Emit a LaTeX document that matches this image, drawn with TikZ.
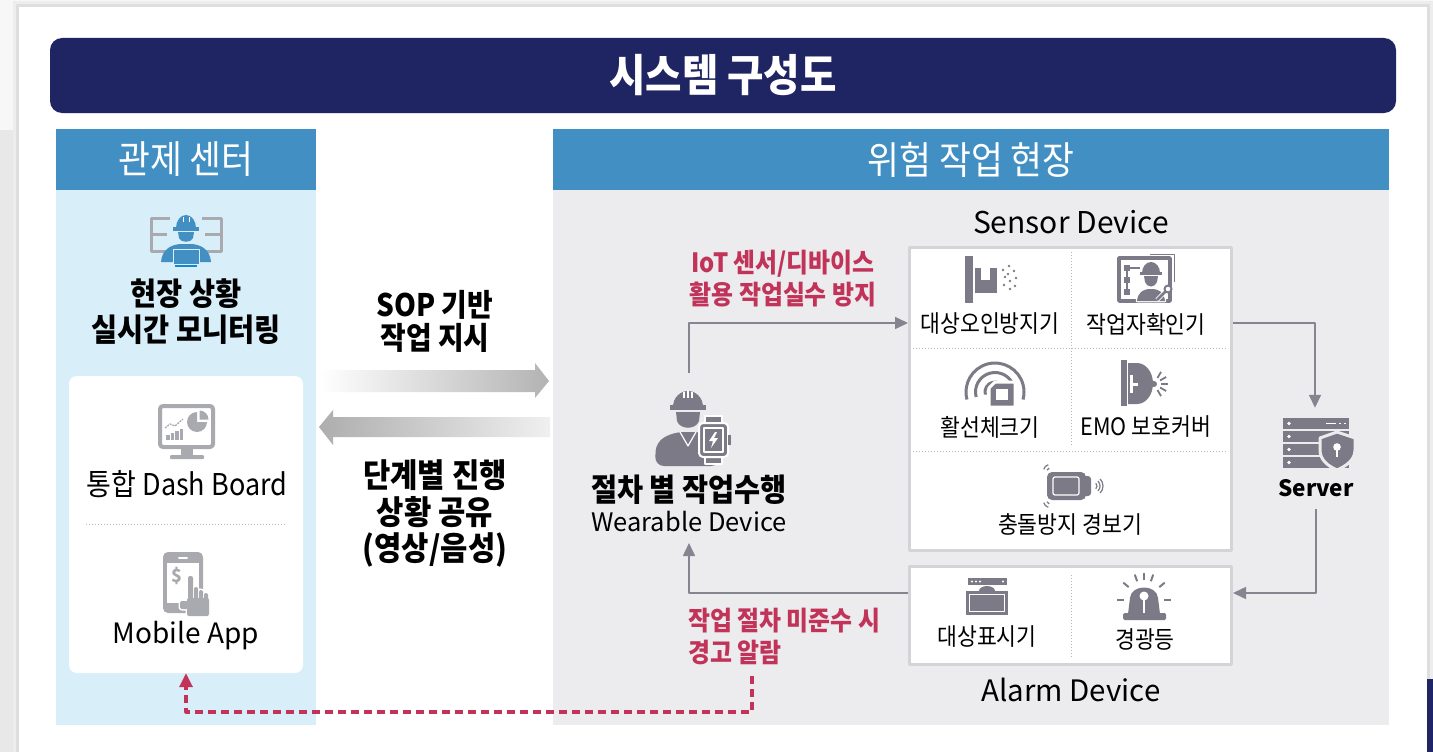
\documentclass[tikz,border=0pt]{standalone}
\usepackage{fontspec}
\setmainfont{Noto Sans CJK KR}
\newfontfamily\hg{Noto Sans CJK KR}[FakeStretch=0.9]
\usetikzlibrary{arrows.meta,calc}

\definecolor{navy}{HTML}{1F2462}
\definecolor{hdrblue}{HTML}{428FC4}
\definecolor{paleblue}{HTML}{D8EEF9}
\definecolor{panelgrey}{HTML}{ECECEE}
\definecolor{icongrey}{HTML}{7B7A86}
\definecolor{softgrey}{HTML}{A9A9B0}
\definecolor{alertred}{HTML}{C13358}
\definecolor{framegrey}{HTML}{D4D4D8}
\definecolor{dotgrey}{HTML}{B4B4BA}
\definecolor{linkgrey}{HTML}{86858F}

\newcommand\setfs[2]{\fontsize{#1pt}{#2pt}\selectfont}

\tikzset{
  conn/.style={draw=linkgrey, line width=1.6pt, -{Triangle[length=13pt,width=12pt]}},
  reddash/.style={draw=alertred, line width=3.2pt, dash pattern=on 8pt off 5pt,
                  -{Triangle[length=14pt,width=13pt]}},
  dotline/.style={draw=dotgrey, line width=1pt, dash pattern=on 1pt off 2pt},
  hdrtext/.style={text=white, inner sep=0pt, font=\hg\setfs{38.5}{42}},
  boldlbl/.style={align=center, inner sep=0pt, font=\hg\bfseries\setfs{31.5}{36}},
  redlbl/.style={text=alertred, inner sep=0pt, font=\hg\bfseries\setfs{26.5}{32}},
  celllbl/.style={inner sep=0pt, font=\hg\setfs{24}{28}},
  latinlbl/.style={inner sep=0pt, font=\setfs{28}{32}},
  devbox/.style={draw=framegrey, line width=3pt, fill=white, inner sep=0pt},
  halo/.style={draw=white, line width=3pt},
  halothin/.style={draw=white, line width=2.5pt},
  bare/.style={},
}

\begin{document}
\begin{tikzpicture}[x=1pt, y=-1pt, line join=round]
\useasboundingbox (0,0) rectangle (1433,752);

% page behind the card
\fill[black!3] (0,0) rectangle (1433,752);
\fill[black!9] (0,130) rectangle (19,752);
\fill[black!7] (13,1) rectangle (1433,752);
\fill[black!13] (16,4) rectangle (1430,752);
\fill[white] (19,7) rectangle (1427,752);
\fill[navy] (1427,679) rectangle (1433,752);

% title bar
\node[fill=navy, rounded corners=12pt, minimum width=1346pt, minimum height=75pt,
      inner sep=0pt, text=white, font=\hg\bfseries\setfs{44}{48}] (title) at (723,75.5) {시스템 구성도};

% control centre panel
\node[fill=hdrblue, minimum width=260pt, minimum height=61pt, hdrtext] (ctrhdr) at (186,159.5) {관제 센터};
\fill[paleblue] (56,190) rectangle (316,725);

% work site panel
\node[fill=hdrblue, minimum width=836pt, minimum height=61pt, hdrtext] (sitehdr) at (971,159.5) {위험 작업 현장};
\fill[panelgrey] (553,190) rectangle (1389,725);

% ---- monitoring operator icon
\begin{scope}
  \draw[softgrey, line width=3pt] (170,218) -- (151,218) -- (151,251) -- (167,251);
  \draw[softgrey, line width=3pt] (151,234) -- (167,234);
  \draw[softgrey, line width=3pt] (202,218) -- (221,218) -- (221,251) -- (205,251);
  \draw[softgrey, line width=3pt] (221,234) -- (205,234);
  \fill[hdrblue] (176,228) arc[start angle=180,end angle=360,x radius=10,y radius=13];
  \draw[white, line width=1pt] (183,217) -- (183,222) (189,217) -- (189,222);
  \fill[hdrblue] (173,227) rectangle (199,231);
  \fill[hdrblue] (178,232) -- (194,232) -- (193,238) .. controls (191,243) and (181,243) .. (179,238) -- cycle;
  \fill[hdrblue] (161,262) .. controls (162,250) and (170,245) .. (180,244) -- (192,244)
        .. controls (202,245) and (210,250) .. (211,262) -- cycle;
  \fill[hdrblue, draw=paleblue, line width=1pt] (173,249) rectangle (199,264);
  \draw[cyan!70!blue, line width=2pt] (175,266) -- (197,266);
\end{scope}

\node[boldlbl] (monitor) at (186,312) {현장 상황\\실시간 모니터링};

% apps box
\node[fill=white, rounded corners=8pt, minimum width=234pt, minimum height=297pt, inner sep=0pt] (appbox) at (186,524.5) {};

% dashboard icon
\begin{scope}
  \draw[softgrey, line width=4pt, rounded corners=3pt] (160,406) rectangle (213,447);
  \fill[softgrey] (181,449) rectangle (193,455);
  \fill[softgrey, rounded corners=1pt] (170,455) rectangle (204,459);
  \foreach \bx/\bh in {166/5, 170.5/7, 175/9, 179.5/11}
    \fill[softgrey] (\bx,440) rectangle ++(3.5,-\bh);
  \draw[softgrey, line width=1.3pt, dash pattern=on 2pt off 1pt] (165,428) -- (170,424) -- (175,426) -- (183,419);
  \fill[softgrey] (197,422) -- ++(10,0) arc[start angle=0,end angle=270,radius=10] -- cycle;
  \fill[softgrey] (199.5,419.5) -- ++(0,-9) arc[start angle=270,end angle=360,radius=9] -- cycle;
\end{scope}
\node[inner sep=0pt, font=\hg\setfs{30}{34}] (dash) at (187,484) {통합 Dash Board};
\draw[dotline] (86,524) -- (286,524);

% mobile icon
\begin{scope}
  \fill[softgrey, rounded corners=5pt] (163,552) rectangle (203,613);
  \fill[white] (167,563) rectangle (199,603);
  \draw[white, line width=2pt, line cap=round] (179,557.5) -- (187,557.5);
  \node[text=softgrey, inner sep=0pt, font=\bfseries\setfs{18}{20}] (dollar) at (177,576) {\$};
  \foreach \opt in {halo, bare} {
    \fill[softgrey, rounded corners=2pt, \opt] (180,601) rectangle (188,609);
    \fill[softgrey, rounded corners=2pt, \opt] (187,598) rectangle (209,616);
    \fill[softgrey, rounded corners=2pt, \opt] (188,576) rectangle (193,603);
    \fill[softgrey, rounded corners=2pt, \opt] (194,587) rectangle (198,603);
    \fill[softgrey, rounded corners=2pt, \opt] (199,590) rectangle (203,604);
    \fill[softgrey, rounded corners=2pt, \opt] (204,593) rectangle (208,606);
  }
  \fill[softgrey] (189,600) rectangle (207,614);
\end{scope}
\node[latinlbl] (mobile) at (186,636) {Mobile App};

% instruction / feedback arrows
\node[boldlbl, font=\hg\bfseries\setfs{31}{33}] (sop) at (435,321.5) {SOP 기반\\작업 지시};
\shade[left color=white, right color=black!30]
  (320,370) -- (535,370) -- (535,363) -- (549,381) -- (535,398) -- (535,392) -- (320,392) -- cycle;
\shade[left color=black!32, right color=black!6]
  (550,417) -- (333,417) -- (333,410) -- (319,427) -- (333,445) -- (333,437) -- (550,437) -- cycle;
\node[boldlbl, font=\hg\bfseries\setfs{33}{36.5}] (share) at (435,513.5) {단계별 진행\\상황 공유\\(영상/음성)};

% wearable worker icon
\node[minimum width=76pt, minimum height=100pt, inner sep=0pt] (wear) at (689,423) {};
\begin{scope}
  \fill[icongrey] (673,407) arc[start angle=180,end angle=360,x radius=15,y radius=16];
  \draw[white, line width=1.4pt] (684,392) -- (684,398) (688,391) -- (688,398) (692,392) -- (692,398);
  \fill[icongrey] (670,405) rectangle (706,410);
  \fill[icongrey] (676,412) -- (700,412) -- (699,421) .. controls (696,430) and (680,430) .. (677,421) -- cycle;
  \fill[icongrey, rounded corners=9pt] (655,466) -- (656,442) -- (674,432) -- (704,432) -- (719,442) -- (720,466) -- cycle;
  \draw[white, line width=1.2pt] (680,432) -- (688,446) -- (696,432);
  \fill[icongrey, draw=white, line width=2pt] (705,416) rectangle (722,424);
  \fill[icongrey, draw=white, line width=2pt] (705,456) rectangle (722,464);
  \fill[icongrey, draw=white, line width=2pt, rounded corners=4pt] (699,423) rectangle (728,457);
  \fill[icongrey] (728,435) rectangle (731,445);
  \draw[white, line width=1.3pt] (704,428) rectangle (723,452);
  \fill[white] (715,432) -- (709,441) -- (713,441) -- (711,448) -- (718,438) -- (714,438) -- (717,432) -- cycle;
\end{scope}
\node[boldlbl] (steplbl) at (689,490) {절차 별 작업수행};
\node[latinlbl, font=\setfs{25.5}{30}] (wearlbl) at (689,522) {Wearable Device};

\node[redlbl, align=center] (iotlbl) at (783,279) {IoT 센서/디바이스\\활용 작업실수 방지};

% sensor devices
\node[inner sep=0pt, font=\setfs{30}{34}] (sensorlbl) at (1071,222) {Sensor Device};
\node[devbox, minimum width=322pt, minimum height=303pt] (sensor) at (1070.5,399) {};
\draw[dotline] (1071,252) -- (1071,446);
\draw[dotline] (913,348) -- (1228,348);
\draw[dotline] (913,451) -- (1228,451);

% misidentification guard
\begin{scope}
  \fill[icongrey] (965,256) rectangle (973,303);
  \fill[icongrey] (975,268) rectangle (997,293);
  \fill[white] (981,268) rectangle (990,280);
  \foreach \dx/\dy in {1003/270, 1009/266, 1014/271, 1005/277, 1010/281, 1016/278, 1004/285, 1010/289, 1015/286, 1008/274}
    \fill[icongrey] (\dx,\dy) circle (1.3);
\end{scope}
\node[celllbl] (c1) at (990,324) {대상오인방지기};

% worker identification
\begin{scope}
  \draw[icongrey, line width=3.5pt] (1119,258) rectangle (1170,301);
  \draw[icongrey, line width=1pt] (1150,254) -- (1174,254) -- (1174,282);
  \fill[icongrey] (1124,265) rectangle (1130,271);
  \fill[icongrey] (1124,277) rectangle (1130,283);
  \fill[icongrey] (1124,289) rectangle (1130,295);
  \draw[icongrey, line width=1.5pt] (1127,271) -- (1127,289);
  \draw[icongrey, line width=1.5pt] (1130,268) -- (1140,268);
  \foreach \opt in {halothin, bare} {
    \fill[icongrey, \opt] (1137,301) .. controls (1138,292) and (1143,289) .. (1151,289)
          .. controls (1159,289) and (1164,292) .. (1165,301) -- cycle;
    \fill[icongrey, \opt] (1144,276) -- (1158,276) -- (1157,282) .. controls (1155,288) and (1147,288) .. (1145,282) -- cycle;
    \fill[icongrey, \opt] (1142,273) arc[start angle=180,end angle=360,x radius=9,y radius=11] -- cycle;
  }
  \fill[icongrey] (1140,272) rectangle (1162,275);
  \draw[white, line width=4.5pt] (1157,300) -- (1166,291);
  \draw[icongrey, line width=2.5pt] (1157,300) -- (1166,291);
  \draw[icongrey, line width=2pt, fill=white] (1168,289) circle (3.5);
\end{scope}
\node[celllbl] (c2) at (1146,324) {작업자확인기};

% live-line checker
\begin{scope}
  \foreach \r in {10,19.5,29}
    \draw[icongrey, line width=3pt] (995,392) ++(165:\r) arc[start angle=165,end angle=375,radius=\r];
  \fill[icongrey, draw=white, line width=3pt] (995,382) -- (1015,382) -- (1015,407) -- (989,407) -- (989,388) -- cycle;
  \fill[white] (996,389) rectangle (1008,400);
\end{scope}
\node[celllbl] (c3) at (990,427) {활선체크기};

% EMO protection cover
\begin{scope}
  \fill[icongrey] (1121,360) rectangle (1127,406);
  \fill[icongrey] (1128,363) -- (1137,363) arc[start angle=270,end angle=450,x radius=16,y radius=20.5] -- (1128,404) -- cycle;
  \fill[white] (1130,375) rectangle (1133,393);
  \fill[white] (1133,382.5) rectangle (1138,385.5);
  \fill[icongrey] (1154,384) circle (3);
  \foreach \a in {-60,-30,0,30,60}
    \draw[icongrey, line width=1.8pt] (1154,384) ++(\a:7) -- ++(\a:7);
\end{scope}
\node[celllbl] (c4) at (1146,427) {EMO 보호커버};

% collision warning
\begin{scope}
  \fill[icongrey, rounded corners=5pt] (1047,472) rectangle (1086,500);
  \fill[icongrey, rounded corners=3pt] (1082,476) rectangle (1091,496);
  \draw[white, line width=1.2pt, rounded corners=2pt] (1053,477) rectangle (1079,495);
  \foreach \r in {3,6.5}
    \draw[icongrey, line width=1.2pt] (1050,471) ++(195:\r) arc[start angle=195,end angle=255,radius=\r];
  \foreach \r in {3,6.5}
    \draw[icongrey, line width=1.2pt] (1050,501) ++(105:\r) arc[start angle=105,end angle=165,radius=\r];
  \foreach \r in {4,7,10}
    \draw[icongrey, line width=1.2pt] (1093,486) ++(-45:\r) arc[start angle=-45,end angle=45,radius=\r];
\end{scope}
\node[celllbl] (c5) at (1070,524) {충돌방지 경보기};

% server
\node[minimum width=72pt, minimum height=70pt, inner sep=0pt] (server) at (1315,443) {};
\begin{scope}
  \foreach \i in {0,1,2,3} {
    \fill[icongrey] (1283,418+13*\i) rectangle (1349,429+13*\i);
    \fill[white] (1289,423.5+13*\i) circle (1.8);
  }
  \draw[white, line width=1.8pt] (1326,423.5) -- (1336,423.5) (1339,423.5) -- (1341,423.5) (1344,423.5) -- (1346,423.5);
  \fill[icongrey, draw=panelgrey, line width=3pt] (1320,438) -- (1337,432) -- (1355,438) -- (1355,450)
      .. controls (1355,460) and (1346,466) .. (1337,470) .. controls (1328,466) and (1320,460) .. (1320,450) -- cycle;
  \fill[white] (1337,447) circle (3.8);
  \fill[white] (1335.6,449) rectangle (1338.4,457);
\end{scope}
\node[inner sep=0pt, font=\bfseries\setfs{22.5}{26}] (srvlbl) at (1316,488) {Server};

% alarm devices
\node[devbox, minimum width=322pt, minimum height=98pt] (alarm) at (1070.5,615.5) {};
\draw[dotline] (1071,575) -- (1071,657);

% target display
\begin{scope}
  \fill[icongrey] (968,578) rectangle (1007,585);
  \foreach \dx in {972,976,980,1003} \fill[white] (\dx,581.5) circle (1.2);
  \fill[icongrey] (979,591) arc[start angle=180,end angle=360,x radius=8,y radius=5];
  \fill[icongrey] (966,591) rectangle (1008,615);
  \draw[white, line width=1.2pt] (969.5,594.5) rectangle (1004.5,611.5);
\end{scope}
\node[celllbl] (a1) at (987,637) {대상표시기};

% warning beacon
\begin{scope}
  \fill[icongrey] (1128,614) -- (1130,598) .. controls (1131,584) and (1157,584) .. (1158,598) -- (1160,614) -- cycle;
  \fill[icongrey, rounded corners=1.5pt] (1123,613) rectangle (1166,620);
  \fill[white] (1144,596) circle (4.5);
  \fill[white] (1143,599) rectangle (1145,613);
  \foreach \a in {180,220,250,270,290,320,360}
    \draw[icongrey, line width=2pt] (1144,600) ++(\a:20) -- ++(\a:7);
\end{scope}
\node[celllbl] (a2) at (1145,639) {경광등};
\node[inner sep=0pt, font=\setfs{29.5}{34}] (alarmlbl) at (1071,690) {Alarm Device};

\node[redlbl, align=left, anchor=west] (warn) at (688,636) {작업 절차 미준수 시\\경고 알람};

% flows
\draw[conn] (wear.north) |- ([yshift=76pt]sensor.west);
\draw[conn] ([yshift=76pt]sensor.east) -| (server.north);
\draw[conn] ([yshift=-21pt]srvlbl.center) |- ([yshift=22.5pt]alarm.east);
\draw[conn] ([yshift=22.5pt]alarm.west) -| ([yshift=-21pt]wearlbl.center);

\coordinate (wd1) at (752,676);
\coordinate (wd2) at (752,712);
\draw[reddash] (wd1) -- (wd2) -| (appbox.south);

\end{tikzpicture}
\end{document}
